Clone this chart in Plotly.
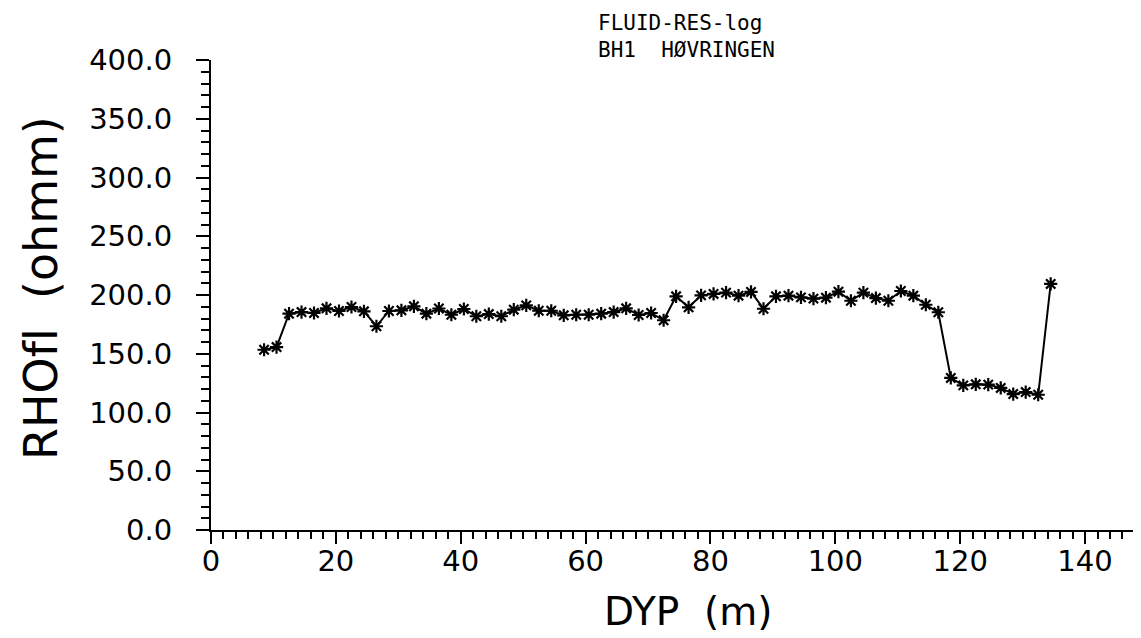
import plotly.graph_objects as go

depth_m = [8.5, 10.5, 12.5, 14.5, 16.5, 18.5, 20.5, 22.5, 24.5, 26.5, 28.5, 30.5,
           32.5, 34.5, 36.5, 38.5, 40.5, 42.5, 44.5, 46.5, 48.5, 50.5, 52.5, 54.5,
           56.5, 58.5, 60.5, 62.5, 64.5, 66.5, 68.5, 70.5, 72.5, 74.5, 76.5, 78.5,
           80.5, 82.5, 84.5, 86.5, 88.5, 90.5, 92.5, 94.5, 96.5, 98.5, 100.5, 102.5,
           104.5, 106.5, 108.5, 110.5, 112.5, 114.5, 116.5, 118.5, 120.5, 122.5,
           124.5, 126.5, 128.5, 130.5, 132.5, 134.5]
rhofl_ohmm = [153.4, 155.7, 184.1, 185.5, 184.7, 188.7, 186.4, 189.8, 186.1, 173.4,
              186.4, 187.0, 190.4, 184.1, 188.5, 183.2, 188.1, 181.9, 183.8, 181.9,
              187.5, 191.2, 186.6, 186.6, 182.7, 183.2, 183.2, 184.1, 185.5, 188.7,
              183.0, 184.7, 178.5, 198.9, 189.5, 199.7, 200.9, 202.0, 199.4, 202.6,
              188.3, 198.9, 199.4, 198.0, 196.9, 197.7, 202.8, 195.1, 202.0, 197.4,
              195.1, 203.4, 199.4, 191.7, 185.3, 129.4, 123.1, 124.0, 123.7, 120.9,
              115.7, 117.4, 115.1, 209.4]

title_lines = ["FLUID-RES-log", "BH1  HØVRINGEN"]
x_title = "DYP  (m)"
# zero-width non-joiner keeps "f" and "l" as separate glyphs (no ligature)
y_title = "RHOf\u200cl  (ohmm)"

FONT = "DejaVu Sans"
MONO = "DejaVu Sans Mono"

W, H = 1141, 638
L, R, T, B = 203, 5, 52, 116
PW, PH = W - L - R, H - T - B

fig = go.Figure()
fig.add_trace(go.Scatter(
    x=depth_m, y=rhofl_ohmm, mode="lines+markers",
    line=dict(color="black", width=2),
    marker=dict(symbol="asterisk-open", size=11, color="black",
                line=dict(color="black", width=2.2)),
    showlegend=False,
))

fig.update_layout(
    width=W, height=H,
    margin=dict(l=L, r=R, t=T, b=B),
    paper_bgcolor="white", plot_bgcolor="white",
    font=dict(family=FONT, color="black"),
    xaxis=dict(
        range=[0, PW / 6.243], tickmode="linear", tick0=0, dtick=20,
        ticks="outside", ticklen=12, tickwidth=1.5, tickcolor="black",
        showline=True, linecolor="black", linewidth=2,
        showgrid=False, zeroline=False,
        tickfont=dict(family=FONT, size=29, color="black"),
        ticklabelstandoff=-8,
        minor=dict(dtick=2, ticks="outside", ticklen=7, tickwidth=1.5,
                   tickcolor="black", showgrid=False),
    ),
    yaxis=dict(
        range=[0, 400], tickmode="linear", tick0=0, dtick=50,
        tickformat=".1f",
        ticks="outside", ticklen=13, tickwidth=1.5, tickcolor="black",
        showline=True, linecolor="black", linewidth=2,
        showgrid=False, zeroline=False,
        tickfont=dict(family=FONT, size=29, color="black"),
        ticklabelstandoff=18,
        minor=dict(dtick=10, ticks="outside", ticklen=8, tickwidth=1.5,
                   tickcolor="black", showgrid=False),
    ),
)

def px_x(sx):
    return (sx - L) / PW

def px_y(sy):
    return (H - B - sy) / PH

# Title lines (left aligned, stacked)
fig.add_annotation(text=title_lines[0], xref="paper", yref="paper",
                   x=px_x(588), y=px_y(15),
                   xanchor="left", yanchor="middle", showarrow=False,
                   font=dict(family=MONO, size=21, color="black"))
fig.add_annotation(text=title_lines[1], xref="paper", yref="paper",
                   x=px_x(588), y=px_y(42),
                   xanchor="left", yanchor="middle", showarrow=False,
                   font=dict(family=MONO, size=21, color="black"))
# Axis titles
fig.add_annotation(text=x_title, xref="paper", yref="paper",
                   x=px_x(680), y=px_y(603),
                   xanchor="center", yanchor="middle", showarrow=False,
                   font=dict(family=FONT, size=39, color="black"))
fig.add_annotation(text=y_title, xref="paper", yref="paper",
                   x=px_x(33), y=px_y(280),
                   xanchor="center", yanchor="middle", showarrow=False,
                   textangle=-90,
                   font=dict(family=FONT, size=46, color="black"))

fig.write_html("out.html")
